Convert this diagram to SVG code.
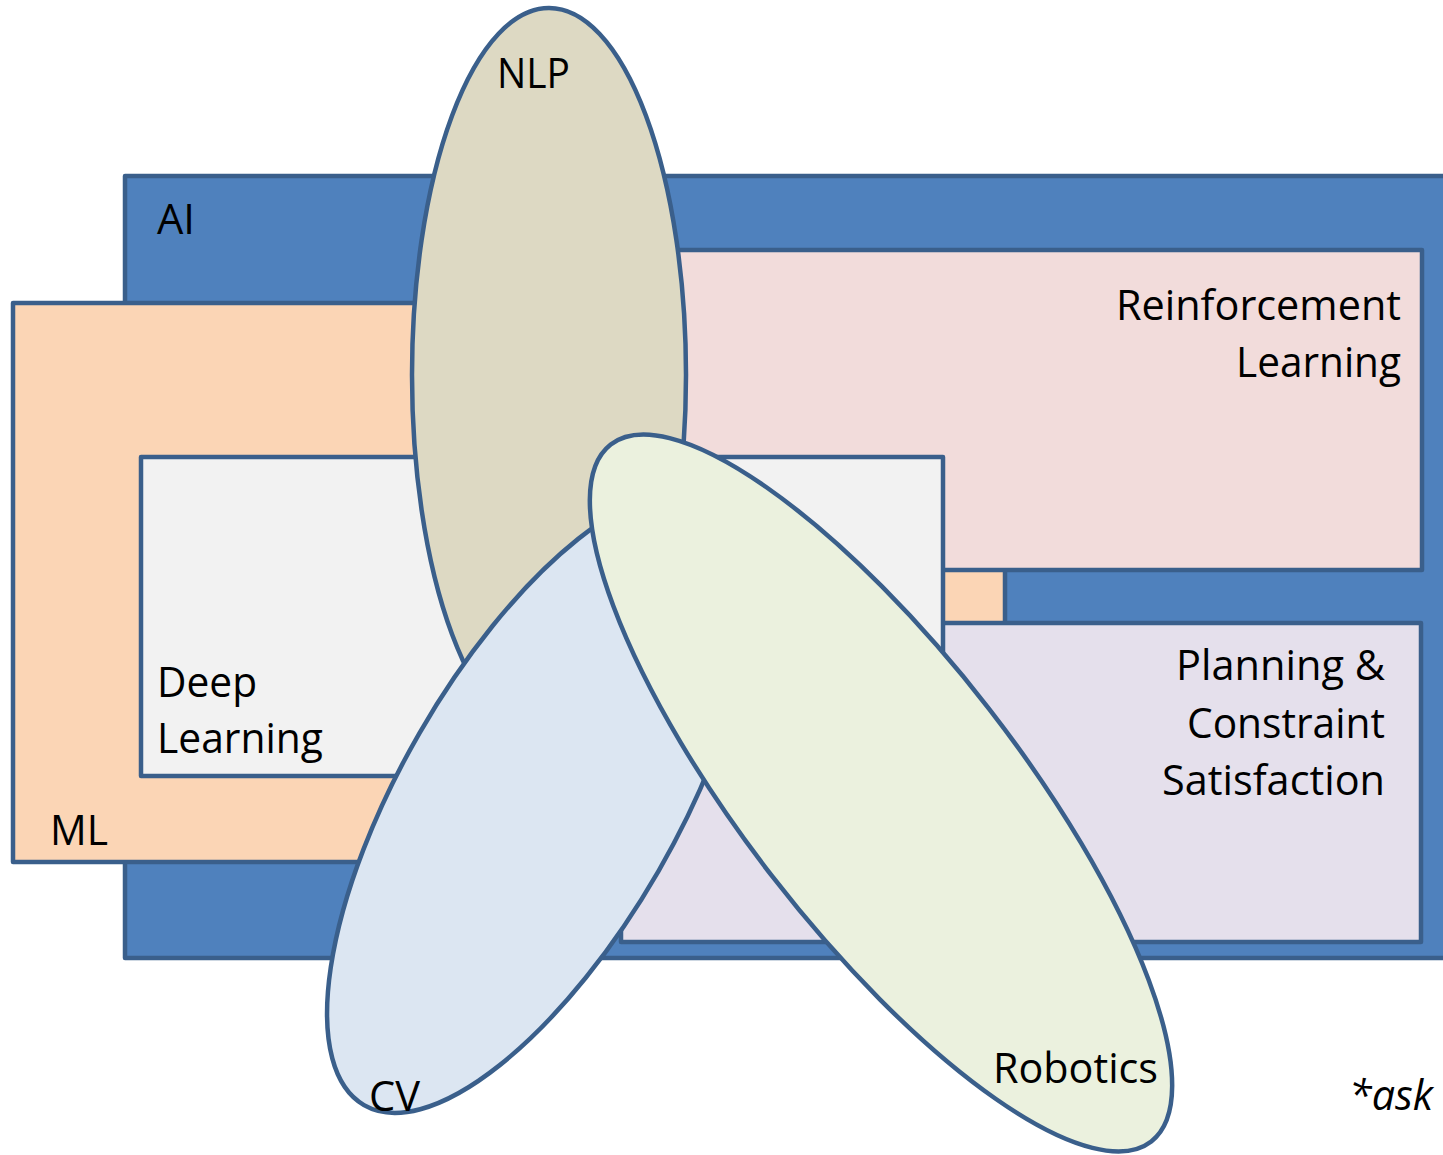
<svg xmlns="http://www.w3.org/2000/svg" width="1443" height="1155" viewBox="0 0 1443 1155">
<style>
.box{stroke:#3a5f8b;stroke-width:4.5;stroke-linejoin:round}
.ell{stroke:#3a5f8b;stroke-width:4.5}
.t{font-family:"Open Sans","Liberation Sans",sans-serif;font-size:42px;fill:#000}
.it{font-style:italic}
</style>
<rect x="0" y="0" width="1443" height="1155" fill="#ffffff"/>
<g id="ai">
<rect class="box" x="125" y="176" width="1330" height="782" fill="#4f81bd"/>
<text class="t" x="157" y="234" textLength="38" lengthAdjust="spacingAndGlyphs">AI</text>
</g>
<g id="ml">
<rect class="box" x="13" y="303" width="992" height="559" fill="#fbd5b5"/>
<text class="t" x="50" y="845" textLength="58" lengthAdjust="spacingAndGlyphs">ML</text>
</g>
<g id="rl">
<rect class="box" x="660" y="250" width="762" height="320" fill="#f2dcdb"/>
<text class="t" text-anchor="end" x="1401" y="320" textLength="285" lengthAdjust="spacingAndGlyphs">Reinforcement</text>
<text class="t" text-anchor="end" x="1401" y="377" textLength="165" lengthAdjust="spacingAndGlyphs">Learning</text>
</g>
<g id="planning">
<rect class="box" x="621" y="623" width="800" height="319" fill="#e5e0ec"/>
<text class="t" text-anchor="end" x="1385" y="680" textLength="209" lengthAdjust="spacingAndGlyphs">Planning &amp;</text>
<text class="t" text-anchor="end" x="1385" y="738" textLength="198" lengthAdjust="spacingAndGlyphs">Constraint</text>
<text class="t" text-anchor="end" x="1385" y="795" textLength="223" lengthAdjust="spacingAndGlyphs">Satisfaction</text>
</g>
<g id="dl">
<rect class="box" x="141" y="457" width="802" height="319" fill="#f2f2f2"/>
<text class="t" x="157" y="697" textLength="100" lengthAdjust="spacingAndGlyphs">Deep</text>
<text class="t" x="157" y="753" textLength="166" lengthAdjust="spacingAndGlyphs">Learning</text>
</g>
<g id="nlp">
<ellipse class="ell" cx="549" cy="375" rx="137" ry="367" fill="#ddd9c3"/>
<text class="t" x="497" y="88" textLength="73" lengthAdjust="spacingAndGlyphs">NLP</text>
</g>
<g id="cv">
<ellipse class="ell" cx="539" cy="802" rx="138" ry="350" fill="#dce6f2" transform="rotate(30 539 802)"/>
<text class="t" x="369" y="1111" textLength="51" lengthAdjust="spacingAndGlyphs">CV</text>
</g>
<g id="robotics">
<ellipse class="ell" cx="881" cy="793" rx="137" ry="441" fill="#ebf1de" transform="rotate(-37.8 881 793)"/>
<text class="t" x="993" y="1083" textLength="165" lengthAdjust="spacingAndGlyphs">Robotics</text>
</g>
<g id="note">
<text class="t it" x="1349" y="1110" textLength="84" lengthAdjust="spacingAndGlyphs">*ask</text>
</g>
<g id="connectors"></g>
</svg>
